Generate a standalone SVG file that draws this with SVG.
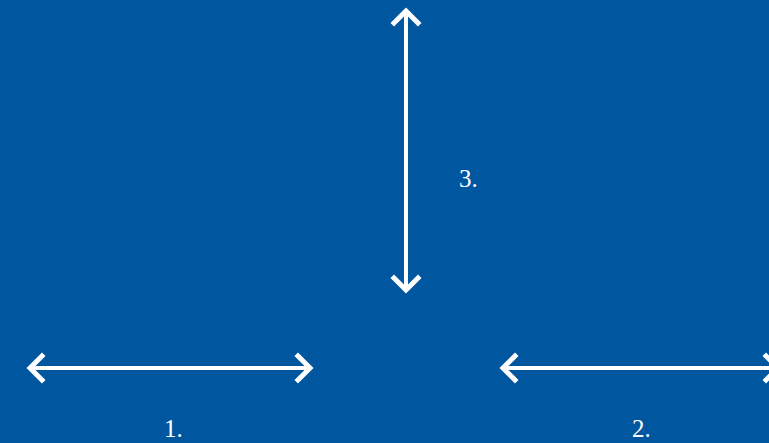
<svg xmlns="http://www.w3.org/2000/svg" width="769" height="443" viewBox="0 0 769 443">
<style>
.c{stroke:#fff;stroke-width:4;fill:none}
.h{stroke:#fff;stroke-width:5;fill:none;stroke-linecap:square;stroke-linejoin:miter}
.t{font-family:"Liberation Serif",serif;font-size:25px;fill:#fff}
</style>
<rect width="769" height="443" fill="#0057a0"/>
<g id="connectors">
<g id="arrow3">
<line class="c" x1="406" y1="12" x2="406" y2="288"/>
<polyline class="h" points="394,23 406,11 418,23"/>
<polyline class="h" points="394,278 406,290 418,278"/>
</g>
<g id="arrow1">
<line class="c" x1="31" y1="368" x2="309" y2="368"/>
<polyline class="h" points="42,356 30,368 42,380"/>
<polyline class="h" points="298,356 310,368 298,380"/>
</g>
<g id="arrow2">
<line class="c" x1="504" y1="368" x2="776" y2="368"/>
<polyline class="h" points="515,356 503,368 515,380"/>
<polyline class="h" points="766,356 778,368 766,380"/>
</g>
</g>
<g id="label1"><text class="t" x="164" y="437">1.</text></g>
<g id="label2"><text class="t" x="632" y="437">2.</text></g>
<g id="label3"><text class="t" x="459" y="187">3.</text></g>
</svg>
